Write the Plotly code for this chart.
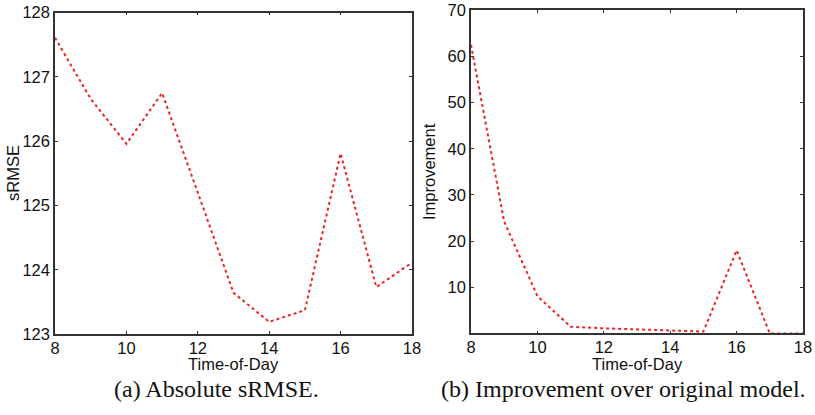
import plotly.graph_objects as go

hours = [8, 9, 10, 11, 12, 13, 14, 15, 16, 17, 18]
srmse = [127.61, 126.66, 125.96, 126.75, 125.2, 123.64, 123.19, 123.37, 125.81, 123.73, 124.11]
improvement = [62.5, 24.2, 8.1, 1.45, 1.1, 0.9, 0.7, 0.4, 18.0, 0.0, 0.0]

x_ticks = [8, 10, 12, 14, 16, 18]
y1_ticks = [123, 124, 125, 126, 127, 128]
y2_ticks = [10, 20, 30, 40, 50, 60, 70]

W, H = 815, 415
fig = go.Figure()
line_style = dict(color="#e8262a", width=2, dash="dot")
fig.add_trace(go.Scatter(x=hours, y=srmse, mode="lines", line=line_style,
                         xaxis="x", yaxis="y", showlegend=False))
fig.add_trace(go.Scatter(x=hours, y=improvement, mode="lines", line=line_style,
                         xaxis="x2", yaxis="y2", showlegend=False))

sans = "Liberation Sans, Arial, sans-serif"
serif = "Liberation Serif, Times New Roman, serif"
tickfont = dict(family=sans, size=16.5, color="#111")
titlefont = dict(family=sans, size=16.5, color="#111")
axis_common = dict(showline=True, linecolor="#333", linewidth=1.5, mirror="ticks",
                   ticks="inside", ticklen=3, tickcolor="#333", tickwidth=1,
                   showgrid=False, zeroline=False, tickfont=tickfont, automargin=False)
xaxis_extra = dict(ticklabelstandoff=-2)

fig.update_layout(
    width=W, height=H,
    margin=dict(l=0, r=0, t=0, b=0),
    paper_bgcolor="white", plot_bgcolor="white",
    xaxis=dict(domain=[55/W, 412/W], range=[8, 18], tickvals=x_ticks, anchor="y",
               **axis_common, **xaxis_extra),
    yaxis=dict(domain=[(H-334)/H, (H-12.7)/H], range=[123, 128], tickvals=y1_ticks, anchor="x",
               **axis_common),
    xaxis2=dict(domain=[471/W, 803/W], range=[8, 18], tickvals=x_ticks, anchor="y2",
                **axis_common, **xaxis_extra),
    yaxis2=dict(domain=[(H-333.4)/H, (H-10.4)/H], range=[0, 70], tickvals=y2_ticks, anchor="x2",
                **axis_common),
    annotations=[
        dict(text="Time-of-Day", x=(55+412)/2/W, y=(H-364)/H, xref="paper", yref="paper",
             showarrow=False, xanchor="center", yanchor="middle", font=titlefont),
        dict(text="Time-of-Day", x=(471+803)/2/W, y=(H-364)/H, xref="paper", yref="paper",
             showarrow=False, xanchor="center", yanchor="middle", font=titlefont),
        dict(text="sRMSE", x=13/W, y=(H-173)/H, xref="paper", yref="paper", textangle=-90,
             showarrow=False, xanchor="center", yanchor="middle", font=titlefont),
        dict(text="Improvement", x=429/W, y=(H-171)/H, xref="paper", yref="paper", textangle=-90,
             showarrow=False, xanchor="center", yanchor="middle", font=titlefont),
        dict(text="(a) Absolute sRMSE.", x=216.5/W, y=(H-389)/H, xref="paper", yref="paper",
             showarrow=False, xanchor="center", yanchor="middle",
             font=dict(family=serif, size=24, color="#111")),
        dict(text="(b) Improvement over original model.", x=623.5/W, y=(H-389)/H,
             xref="paper", yref="paper", showarrow=False, xanchor="center", yanchor="middle",
             font=dict(family=serif, size=24, color="#111")),
    ],
)

fig.write_html("out.html", config={"displayModeBar": False})
with open("out.html", "r", encoding="utf-8") as f:
    html = f.read()
html = html.replace("<head>", "<head><style>html,body{margin:0;padding:0;overflow:hidden;}</style>", 1)
with open("out.html", "w", encoding="utf-8") as f:
    f.write(html)
